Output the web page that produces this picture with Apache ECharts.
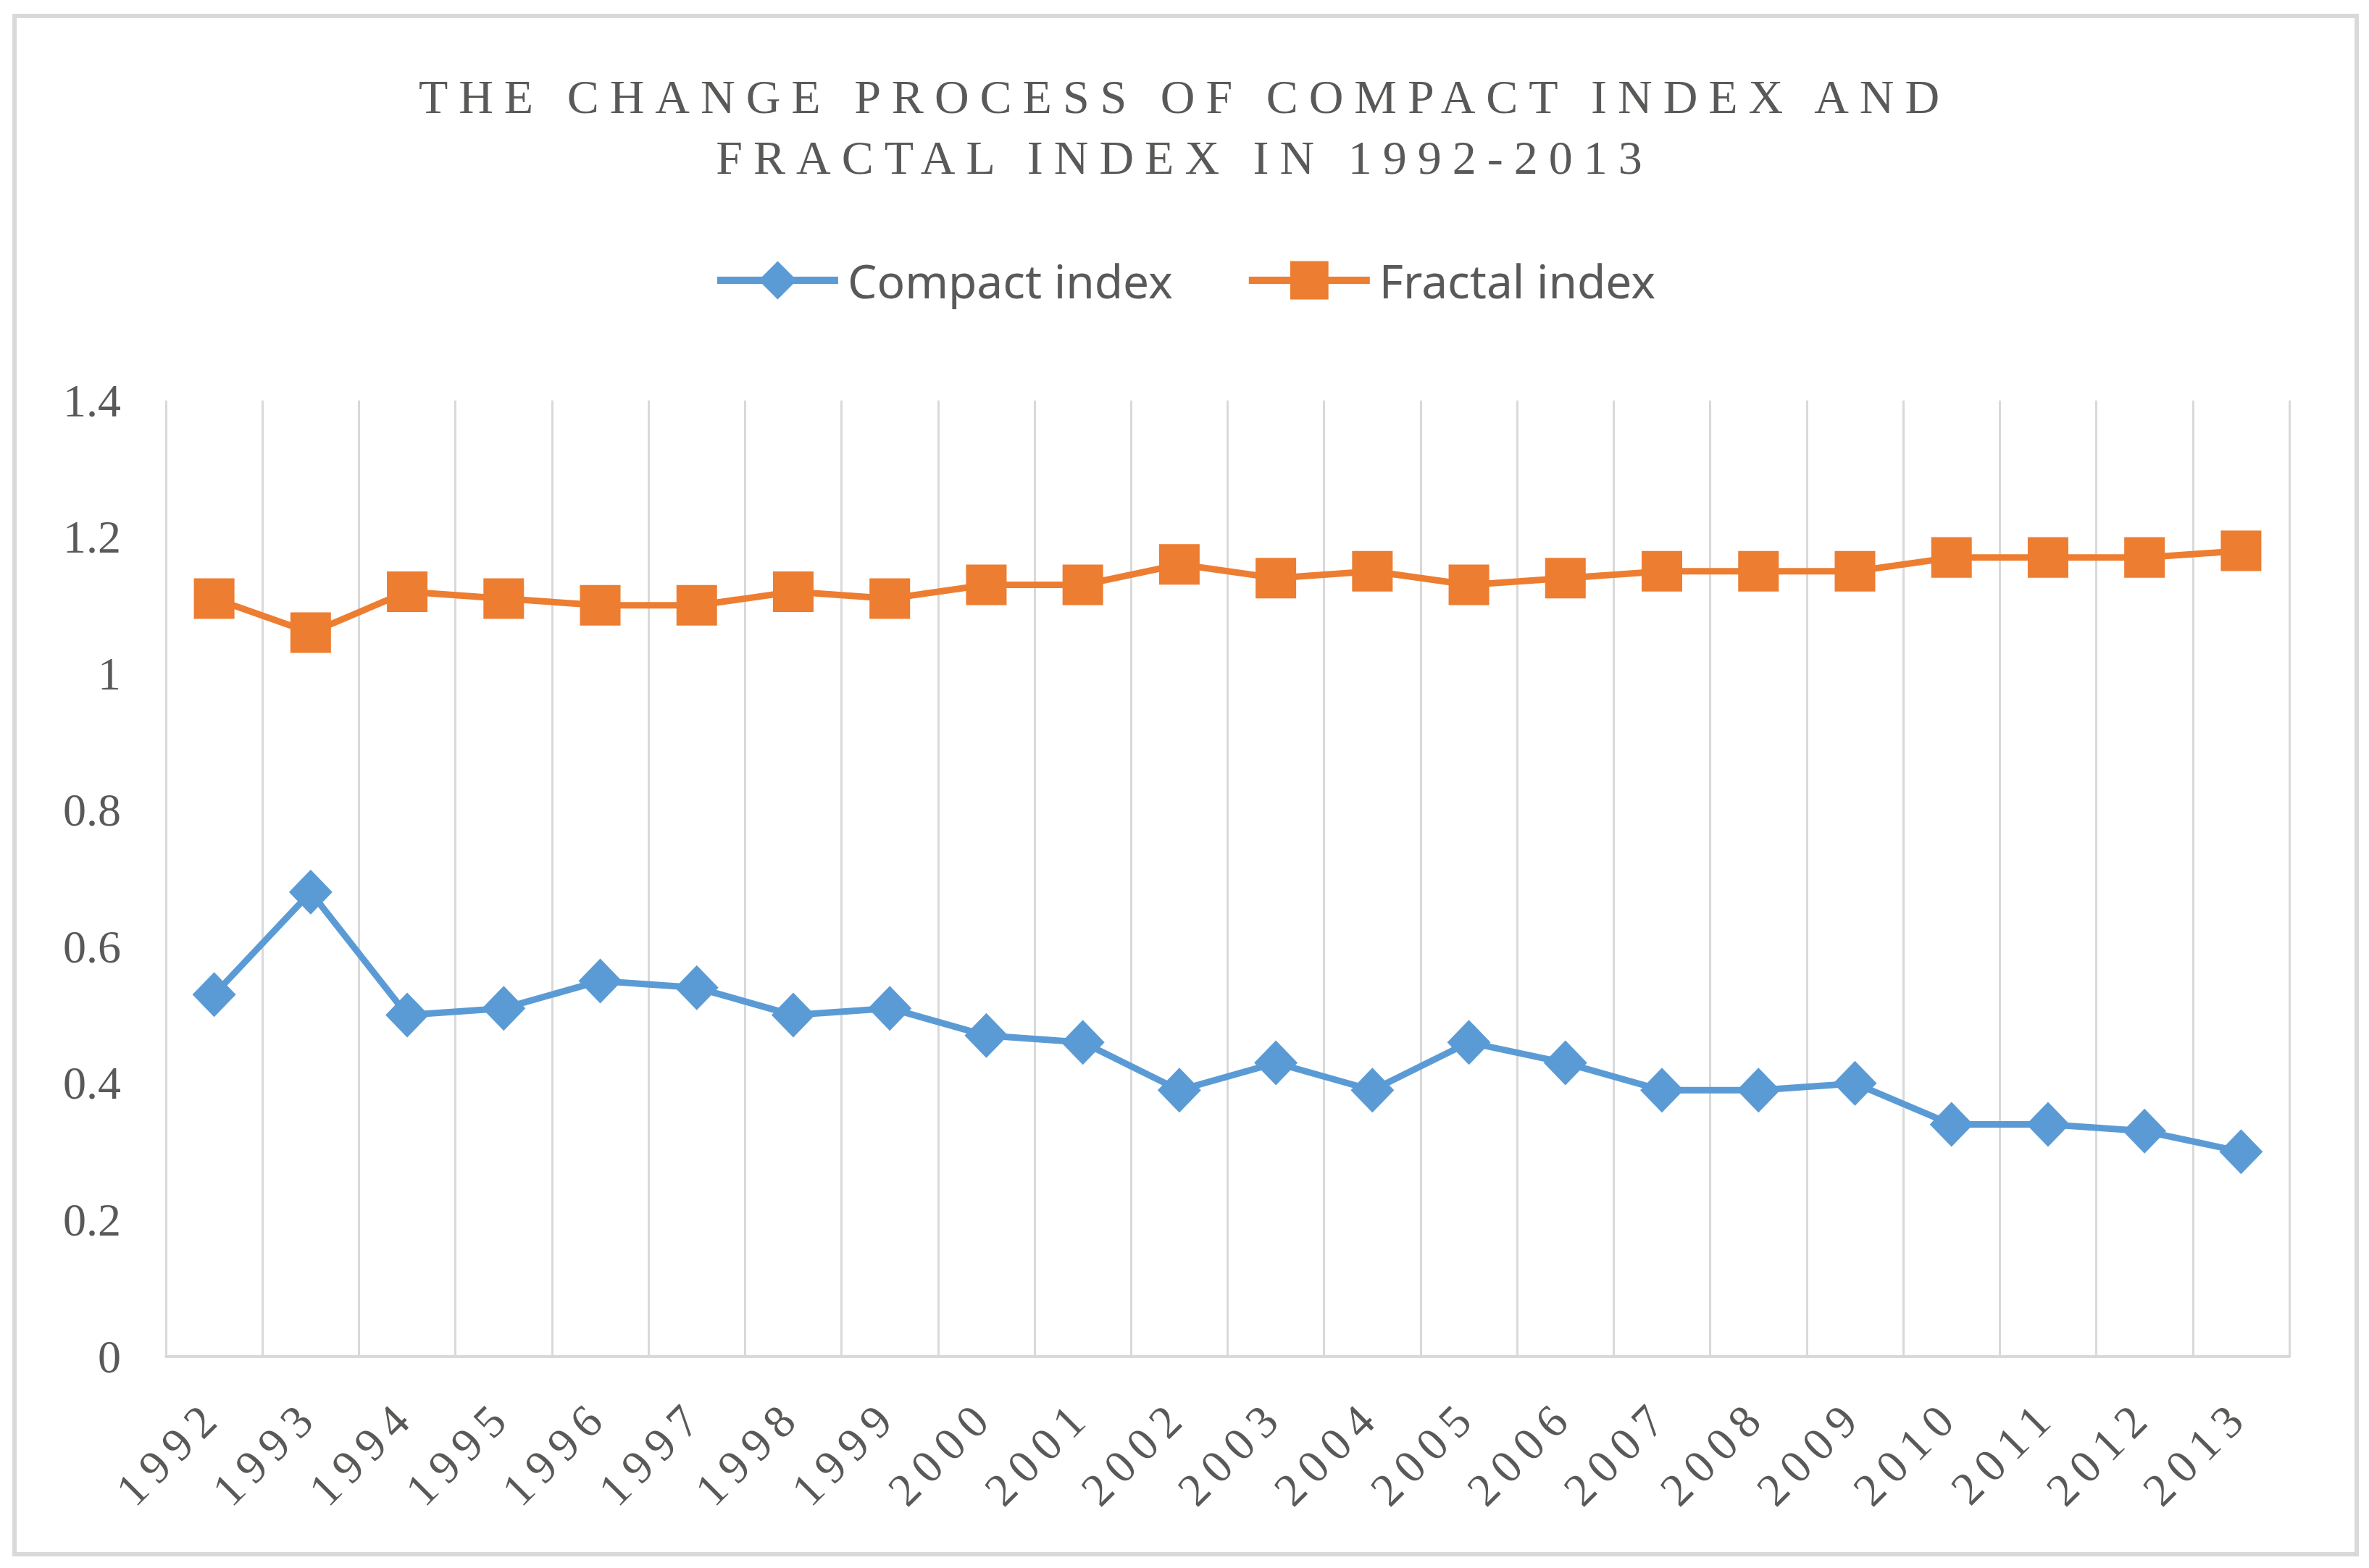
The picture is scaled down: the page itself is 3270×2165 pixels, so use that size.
<!DOCTYPE html>
<html>
<head>
<meta charset="utf-8">
<script src="https://cdn.jsdelivr.net/npm/echarts@6/dist/echarts.min.js"></script>
<style>
html,body{margin:0;padding:0;background:#fff;}
#chart{width:3270px;height:2165px;}
text[fill="#595958"], text[style*="595958"]{letter-spacing:15px;}
text[fill="#595957"], text[style*="595957"]{letter-spacing:12px;}
</style>
</head>
<body>
<div id="chart"></div>
<script>
const years = ['1992','1993','1994','1995','1996','1997','1998','1999','2000','2001','2002','2003','2004','2005','2006','2007','2008','2009','2010','2011','2012','2013'];
const compactIndex = [0.53,0.68,0.50,0.51,0.55,0.54,0.50,0.51,0.47,0.46,0.39,0.43,0.39,0.46,0.43,0.39,0.39,0.40,0.34,0.34,0.33,0.30];
const fractalIndex = [1.11,1.06,1.12,1.11,1.10,1.10,1.12,1.11,1.13,1.13,1.16,1.14,1.15,1.13,1.14,1.15,1.15,1.15,1.17,1.17,1.17,1.18];
const seriesNames = ['Compact index','Fractal index'];
const titleText = 'THE CHANGE PROCESS OF COMPACT INDEX AND\nFRACTAL INDEX IN 1992-2013';

const chart = echarts.init(document.getElementById('chart'), null, {renderer:'svg'});
const serif = '"Liberation Serif", "Times New Roman", serif';
const sans = '"Noto Sans", "Open Sans", sans-serif';
chart.setOption({
  animation:false,
  backgroundColor:'#ffffff',
  graphic:[{
    type:'rect', silent:true,
    shape:{x:20,y:22,width:3233,height:2124},
    style:{fill:'none',stroke:'#d9d9d9',lineWidth:6}
  }],
  title:{
    text:titleText,
    left:'center', top:86,
    textStyle:{fontFamily:serif,fontSize:66,fontWeight:'normal',color:'#595958',lineHeight:84}
  },
  legend:{
    data:seriesNames,
    top:350, left:'center',
    itemWidth:167, itemHeight:66, itemGap:100,
    lineStyle:{width:10},
    textStyle:{fontFamily:sans,fontSize:64,color:'#595959',padding:[0,0,0,8]}
  },
  grid:{left:229,right:110,top:553,bottom:292},
  xAxis:{
    type:'category', data:years, boundaryGap:true,
    axisLine:{show:true,lineStyle:{color:'#d9d9d9',width:4}},
    axisTick:{show:false},
    splitLine:{show:true,lineStyle:{color:'#d9d9d9',width:3}},
    axisLabel:{interval:0,rotate:45,margin:70,fontFamily:serif,fontSize:64,color:'#595957'}
  },
  yAxis:{
    type:'value', min:0, max:1.4, interval:0.2,
    axisLine:{show:false}, axisTick:{show:false},
    splitLine:{show:false},
    axisLabel:{margin:62,fontFamily:serif,fontSize:64,color:'#595959'}
  },
  series:[
    {name:seriesNames[0],type:'line',data:compactIndex,symbol:'diamond',symbolSize:[60,62],
     lineStyle:{color:'#5b9bd5',width:9},itemStyle:{color:'#5b9bd5'}},
    {name:seriesNames[1],type:'line',data:fractalIndex,symbol:'rect',symbolSize:56,
     lineStyle:{color:'#ed7d31',width:9},itemStyle:{color:'#ed7d31'}}
  ]
});
</script>
</body>
</html>
